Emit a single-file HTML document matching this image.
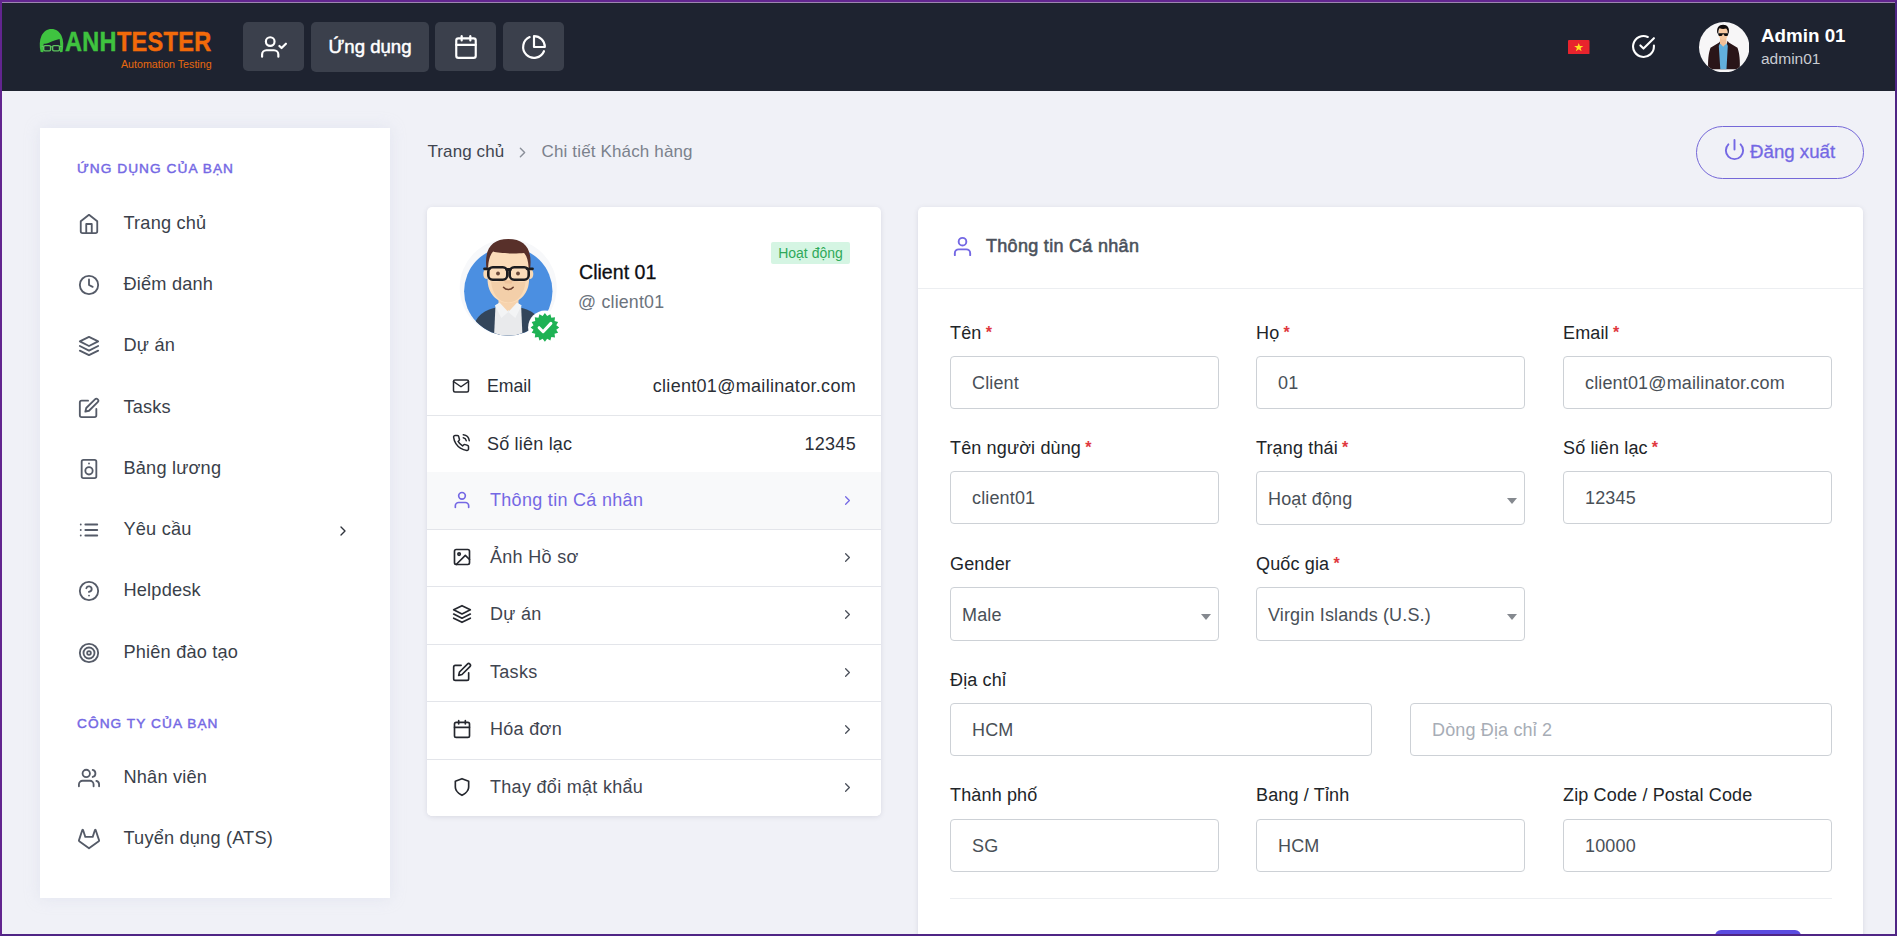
<!DOCTYPE html>
<html lang="vi">
<head>
<meta charset="utf-8">
<title>Chi tiết Khách hàng</title>
<style>
*{box-sizing:border-box;margin:0;padding:0}
html,body{width:1897px;height:936px;overflow:hidden}
body{font-family:"Liberation Sans",sans-serif;background:#f0f1f7;color:#212529;position:relative}
.abs{position:absolute}
svg{display:block}
.ic{fill:none;stroke:currentColor;stroke-width:2;stroke-linecap:round;stroke-linejoin:round}
/* frame */
#frame{position:absolute;left:0;top:0;width:1897px;height:936px;border:2px solid #62258f;border-right-color:#4f2585;border-bottom-color:#4f2585;z-index:50;pointer-events:none}
#topline{position:absolute;left:2px;top:2px;width:1893px;height:1px;background:#9d86b0;z-index:51}
/* navbar */
#nav{position:absolute;left:2px;top:3px;width:1893px;height:88px;background:#1e2330}
.nbtn{position:absolute;top:19px;height:49px;background:#3b404c;border-radius:5px;color:#fff}
.nbtn svg{position:absolute;left:50%;top:50%;transform:translate(-50%,-50%)}
/* sidebar */
#side{position:absolute;left:40px;top:128px;width:350px;height:770px;background:#fff;box-shadow:0 0 14px rgba(200,205,225,.35)}
.cap{position:absolute;left:37px;font-size:13.7px;line-height:16px;letter-spacing:1.05px;color:#7468e4;-webkit-text-stroke:.45px #7468e4;white-space:nowrap}
.mi{position:absolute;left:38px;height:24px;color:#3a3f4a;font-size:18.200px;letter-spacing:.18px;white-space:nowrap;line-height:24px}
.mi svg{position:absolute;left:0;top:2px;color:#555b68}
.mi span{position:absolute;left:45.500px;top:0}
/* cards */
.card{position:absolute;background:#fff;border-radius:5px;box-shadow:0 1px 5px rgba(60,65,90,.13)}
.li{position:absolute;left:0;width:454px;height:58px;background:#fff;border-top:1px solid #e3e5ea;color:#3f4550;font-size:18px;letter-spacing:.3px}
.li svg.i{position:absolute;left:25px;top:17px;color:#24272e}
.li span{position:absolute;left:63px;top:17px;white-space:nowrap}
.li svg.ch{position:absolute;left:413px;top:20px;color:#4a4f5a}
.lb{position:absolute;font-size:18px;letter-spacing:.15px;line-height:22px;color:#212529;white-space:nowrap}
.lb i{font-style:normal;color:#e0383e;margin-left:-1px;font-size:16px;font-weight:bold;position:relative;top:-1px}
.in{position:absolute;height:53px;border:1px solid #cdd1d6;border-radius:4px;background:#fff;font-size:18px;letter-spacing:.15px;color:#495057;line-height:53px;padding-left:21px;white-space:nowrap}
.in.sel{padding-left:11px;height:54px;line-height:55px}
.in.sel:after{content:"";position:absolute;right:7px;top:26px;border:5px solid transparent;border-top:6px solid #85898f;border-bottom:none}
.in.ph{color:#a7adb6}
</style>
</head>
<body>
<div id="nav">
 <!-- logo -->
 <svg class="abs" style="left:32px;top:19px" width="40" height="40" viewBox="0 0 40 40">
  <path d="M6.600 30C5.200 24 5.500 18 7.500 13.800 9.600 9.500 13 7 17.500 7s8 2.500 10 6.800c2 4.200 2.300 10.200 1 16.200l-2.600.3c.5-4.300.4-9.300-.3-13.300-4 .8-6.500 2-9.500 3.200-2.500 1-4.600 1.500-6.400 1.600-.5 2.800-.5 5.800-.2 8.500z" fill="#3fc340"/>
  <rect x="9.700" y="23.600" width="6.900" height="5.300" rx="1.300" fill="none" stroke="#5cc45d" stroke-width="1.400"/>
  <rect x="18.600" y="23.600" width="6.900" height="5.300" rx="1.300" fill="none" stroke="#5cc45d" stroke-width="1.400"/>
  <path d="M16.600 24.800h2M7.500 24.500h2.200M25.500 24.500h2.200" stroke="#62c463" stroke-width="1.100"/>
 </svg>
 <div class="abs" id="lg1" style="left:63px;top:23.400px;font-size:27.700px;line-height:32px;font-weight:bold;white-space:nowrap;transform-origin:0 0;transform:scaleX(.848);letter-spacing:.4px;-webkit-text-stroke-width:.5px"><span style="color:#3fc33f">ANH</span><span style="color:#f26a0a">TESTER</span></div>
 <div class="abs" id="lg2" style="left:119px;top:54px;font-size:11.300px;line-height:14px;color:#e8690e;white-space:nowrap;transform-origin:0 0;transform:scaleX(.945)">Automation Testing</div>
 <!-- buttons -->
 <div class="nbtn" style="left:241px;width:61px"><svg class="ic" width="26" height="26" viewBox="0 0 24 24"><path d="M16 21v-2a4 4 0 0 0-4-4H5a4 4 0 0 0-4 4v2"/><circle cx="8.500" cy="7" r="4"/><polyline points="17 11 19 13 23 9"/></svg></div>
 <div class="nbtn" style="left:309px;width:118px;height:50px;font-size:18.600px;line-height:49px;text-align:center;-webkit-text-stroke:.5px #fff">Ứng dụng</div>
 <div class="nbtn" style="left:433px;width:61px"><svg class="ic" width="26" height="26" viewBox="0 0 24 24"><rect x="3" y="4" width="18" height="18" rx="2" ry="2"/><line x1="16" y1="2" x2="16" y2="6"/><line x1="8" y1="2" x2="8" y2="6"/><line x1="3" y1="10" x2="21" y2="10"/></svg></div>
 <div class="nbtn" style="left:501px;width:61px"><svg class="ic" width="26" height="26" viewBox="0 0 24 24"><path d="M21.210 15.890A10 10 0 1 1 8 2.830"/><path d="M22 12A10 10 0 0 0 12 2v10z"/></svg></div>
 <!-- flag -->
 <svg class="abs" style="left:1566.400px;top:36.800px" width="21.500" height="14.400" viewBox="0 0 20 14" preserveAspectRatio="none"><rect width="20" height="14" rx="1" fill="#e8232d"/><polygon points="10,2.800 11.060,5.900 14.300,5.900 11.700,7.850 12.650,11 10,9.100 7.350,11 8.300,7.850 5.700,5.900 8.940,5.900" fill="#ffde21"/></svg>
 <!-- check -->
 <svg class="ic abs" style="left:1629px;top:31px;color:#fff" width="25" height="25" viewBox="0 0 24 24"><path d="M22 11.080V12a10 10 0 1 1-5.930-9.140"/><polyline points="22 4 12 14.010 9 11.010"/></svg>
 <!-- avatar -->
 <svg class="abs" style="left:1697px;top:18.700px" width="50.400" height="50.400" viewBox="0 0 50.400 50.400">
  <defs><clipPath id="avc"><circle cx="25.200" cy="25.200" r="25.200"/></clipPath></defs>
  <circle cx="25.200" cy="25.200" r="25.200" fill="#f7f6f7"/>
  <g clip-path="url(#avc)">
   <path d="M9.300 47.200c-.6-8 .2-16 2.200-21.500l8.700-5.200 1.200-1.800 1.300 4.500h4.600l1.300-4.500 1.200 1.800 8.700 5.200c2 5.500 2.800 13.500 2.200 21.500z" fill="#2a1518"/>
   <path d="M20.800 21.500l3.500 2 3.500-2 1 2.500-1.300 23.300h-6.200l-1.500-23.300z" fill="#62afdc"/>
   <path d="M21 15h6.400v6.200l-3.200 3.600-3.200-3.600z" fill="#f2c097"/>
   <path d="M19.800 9.500c0-3 2-4.500 4.400-4.500s4.400 1.500 4.400 4.500v3.500c0 2.500-2.200 4.800-4.400 4.800s-4.400-2.300-4.400-4.800z" fill="#f8caa2"/>
   <path d="M18.400 11.500c-1.300-5.500 1.500-8.700 5.700-8.700 4.300 0 6.900 3.200 5.600 8.700l-1-.3c.2-2.500-.6-4-1.600-4.700-2 .6-4.800.5-6.400-.2-.9.900-1.500 2.500-1.300 5z" fill="#120c0c"/>
   <path d="M19.200 11.200h10v1c0 1.200-.9 1.900-2.100 1.900s-2.200-.7-2.400-1.900h-1c-.2 1.200-1.200 1.900-2.400 1.900s-2.100-.7-2.100-1.900z" fill="#0e0e10"/>
  </g>
 </svg>
 <div class="abs" style="left:1759px;top:21.500px;font-size:18.800px;line-height:22px;font-weight:bold;color:#fff;white-space:nowrap">Admin 01</div>
 <div class="abs" style="left:1759px;top:47px;font-size:15.500px;line-height:18px;color:#c9ccd2;white-space:nowrap">admin01</div>
</div>
<div id="side">
 <div class="cap" style="top:33px">ỨNG DỤNG CỦA BẠN</div>
 <div class="mi" style="top:83px"><svg class="ic" width="22" height="22" viewBox="0 0 24 24"><path d="M3 9l9-7 9 7v11a2 2 0 0 1-2 2H5a2 2 0 0 1-2-2z"/><polyline points="9 22 9 12 15 12 15 22"/></svg><span>Trang chủ</span></div>
 <div class="mi" style="top:144px"><svg class="ic" width="22" height="22" viewBox="0 0 24 24"><circle cx="12" cy="12" r="10"/><polyline points="12 6 12 12 16 14"/></svg><span>Điểm danh</span></div>
 <div class="mi" style="top:205px"><svg class="ic" width="22" height="22" viewBox="0 0 24 24"><polygon points="12 2 2 7 12 12 22 7 12 2"/><polyline points="2 17 12 22 22 17"/><polyline points="2 12 12 17 22 12"/></svg><span>Dự án</span></div>
 <div class="mi" style="top:267px"><svg class="ic" width="22" height="22" viewBox="0 0 24 24"><path d="M11 4H4a2 2 0 0 0-2 2v14a2 2 0 0 0 2 2h14a2 2 0 0 0 2-2v-7"/><path d="M18.500 2.500a2.121 2.121 0 0 1 3 3L12 15l-4 1 1-4 9.500-9.500z"/></svg><span>Tasks</span></div>
 <div class="mi" style="top:328px"><svg class="ic" width="22" height="22" viewBox="0 0 24 24"><rect x="4" y="2" width="16" height="20" rx="2" ry="2"/><circle cx="12" cy="14" r="4"/><line x1="12" y1="6" x2="12.010" y2="6"/></svg><span>Bảng lương</span></div>
 <div class="mi" style="top:389px"><svg class="ic" width="22" height="22" viewBox="0 0 24 24"><line x1="8" y1="6" x2="21" y2="6"/><line x1="8" y1="12" x2="21" y2="12"/><line x1="8" y1="18" x2="21" y2="18"/><line x1="3" y1="6" x2="3.010" y2="6"/><line x1="3" y1="12" x2="3.010" y2="12"/><line x1="3" y1="18" x2="3.010" y2="18"/></svg><span>Yêu cầu</span></div>
 <div class="mi" style="top:450px"><svg class="ic" width="22" height="22" viewBox="0 0 24 24"><circle cx="12" cy="12" r="10"/><path d="M9.090 9a3 3 0 0 1 5.830 1c0 2-3 3-3 3"/><line x1="12" y1="17" x2="12.010" y2="17"/></svg><span>Helpdesk</span></div>
 <div class="mi" style="top:512px"><svg class="ic" width="22" height="22" viewBox="0 0 24 24"><circle cx="12" cy="12" r="10"/><circle cx="12" cy="12" r="6"/><circle cx="12" cy="12" r="2"/></svg><span>Phiên đào tạo</span></div>
 <div class="mi" style="top:637px"><svg class="ic" width="22" height="22" viewBox="0 0 24 24"><path d="M17 21v-2a4 4 0 0 0-4-4H5a4 4 0 0 0-4 4v2"/><circle cx="9" cy="7" r="4"/><path d="M23 21v-2a4 4 0 0 0-3-3.870"/><path d="M16 3.130a4 4 0 0 1 0 7.750"/></svg><span>Nhân viên</span></div>
 <div class="mi" style="top:698px"><svg class="ic" width="22" height="22" viewBox="0 0 24 24"><path d="M22.650 14.390L12 22.130 1.350 14.390a.84.84 0 0 1-.3-.94l1.220-3.780 2.440-7.510A.42.42 0 0 1 4.820 2a.43.43 0 0 1 .58 0 .42.42 0 0 1 .11.180l2.440 7.490h8.100l2.440-7.510A.42.42 0 0 1 18.600 2a.43.43 0 0 1 .58 0 .42.42 0 0 1 .11.180l2.440 7.510L23 13.450a.84.84 0 0 1-.35.940z"/></svg><span>Tuyển dụng (ATS)</span></div>
 <svg class="ic abs" style="left:295px;top:394.500px;color:#2f333c" width="16" height="16" viewBox="0 0 24 24"><polyline points="9 18 15 12 9 6"/></svg>
 <div class="cap" style="top:588px">CÔNG TY CỦA BẠN</div>
</div>
<div id="main">
 <div class="abs" style="left:427.500px;top:142px;font-size:17px;letter-spacing:.1px;line-height:20px;color:#3f4550;white-space:nowrap">Trang chủ</div>
 <svg class="ic abs" style="left:513.500px;top:144px;color:#8a8f99" width="17" height="17" viewBox="0 0 24 24"><polyline points="9 18 15 12 9 6"/></svg>
 <div class="abs" style="left:541.500px;top:142px;font-size:17px;letter-spacing:.15px;line-height:20px;color:#7b818c;white-space:nowrap">Chi tiết Khách hàng</div>
 <div class="abs" style="left:1696px;top:126px;width:168px;height:53px;border:1px solid #7568d8;border-radius:27px;color:#7468e4"></div>
 <svg class="ic abs" style="left:1723.300px;top:137.700px;color:#7468e4" width="23" height="23" viewBox="0 0 24 24"><path d="M18.360 6.640a9 9 0 1 1-12.730 0"/><line x1="12" y1="2" x2="12" y2="12"/></svg>
 <div class="abs" style="left:1750px;top:141px;font-size:18.700px;line-height:22px;color:#7468e4;white-space:nowrap;-webkit-text-stroke:.3px #7468e4">Đăng xuất</div>
 <div class="card" id="pc" style="left:427px;top:207px;width:454px;height:609px;overflow:hidden">
  <svg class="abs" style="left:23px;top:18px" width="120" height="120" viewBox="0 0 120 120">
   <defs><clipPath id="cc"><rect x="0" y="0" width="120" height="66"/><circle cx="58.300" cy="66.300" r="44.200"/></clipPath></defs>
   <circle cx="58.200" cy="62.500" r="48.500" fill="#f7f8fa"/>
   <circle cx="58.300" cy="66.300" r="44.200" fill="#4b8fe1"/>
   <g clip-path="url(#cc)">
    <path d="M22 112c1-18 8-25 22-29l14-3 14 3c14 4 21 11 22 29z" fill="#33455a"/>
    <path d="M45.500 80l12.800-3 12.800 3 1.400 32H44z" fill="#e9eaec"/>
    <path d="M48.500 68h20v11l-6.500 9-3.500-3-3.500 3-6.500-9z" fill="#f6d3ae"/>
    <path d="M45 80.500l4.500-3 8.800 9.500-7 6z M71.600 80.500l-4.500-3-8.800 9.500 7 6z" fill="#f3f4f5"/>
    <ellipse cx="36.300" cy="49" rx="3" ry="5" fill="#f9d9b5"/><ellipse cx="80.300" cy="49" rx="3" ry="5" fill="#f9d9b5"/>
    <path d="M37.500 30c0-6 6-9 20.800-9s20.800 3 20.800 9v24c0 14-9 24-20.800 24S37.500 68 37.500 54z" fill="#fbdcb9"/>
    <path d="M41 56c3 2 8 1 10.500-1h13.600c2.500 2 7.500 3 10.500 1-1 13-8 21.500-17.300 21.500S42 69 41 56z" fill="#f3cfa9"/>
    <path d="M54 55.500h8.600l-1 3h-6.600z" fill="#eec39c"/>
    <path d="M36.500 44c-2.500-20 5-30 21.800-30s24.300 10 21.800 30l-1.500-2c-.5-7-2-11-4.500-14-9 1-25 .5-31-1.500-3 3.500-4.500 8-5 15.500z" fill="#58302a"/>
    <rect x="38.300" y="42.300" width="19" height="12.400" rx="4.500" fill="#fbdcb9" stroke="#1d1d20" stroke-width="2.600"/>
    <rect x="59.700" y="42.300" width="19" height="12.400" rx="4.500" fill="#fbdcb9" stroke="#1d1d20" stroke-width="2.600"/>
    <path d="M34.500 43.800h5M77 43.800h5.500M56.500 44.500h4" stroke="#1d1d20" stroke-width="2.800" stroke-linecap="round"/>
    <circle cx="48" cy="48.500" r="1.900" fill="#6b4a3a"/><circle cx="68" cy="48.500" r="1.900" fill="#6b4a3a"/>
    <path d="M53.500 62.300c2.500 3 7.200 3 9.700 0" fill="none" stroke="#6a3f2e" stroke-width="1.500" stroke-linecap="round"/>
   </g>
   <circle cx="94.900" cy="102.400" r="16.800" fill="#fff"/>
   <g transform="translate(94.900 102.400)"><polygon fill="#1eb254" points="0.00,-14.30 2.26,-11.38 5.47,-13.21 6.44,-9.65 10.11,-10.11 9.65,-6.44 13.21,-5.47 11.38,-2.26 14.30,-0.00 11.38,2.26 13.21,5.47 9.65,6.44 10.11,10.11 6.44,9.65 5.47,13.21 2.26,11.38 0.00,14.30 -2.26,11.38 -5.47,13.21 -6.44,9.65 -10.11,10.11 -9.65,6.44 -13.21,5.47 -11.38,2.26 -14.30,0.00 -11.38,-2.26 -13.21,-5.47 -9.65,-6.44 -10.11,-10.11 -6.44,-9.65 -5.47,-13.21 -2.26,-11.38"/><path d="M-5.800 0.300l4 4 7.800-8.300" fill="none" stroke="#fff" stroke-width="3" stroke-linecap="round" stroke-linejoin="round"/></g>
  </svg>
  <div class="abs" style="left:152px;top:53px;font-size:19.600px;line-height:24px;color:#0d0e12;white-space:nowrap;-webkit-text-stroke:.3px #0d0e12">Client 01</div>
  <div class="abs" style="left:151px;top:84px;font-size:17.800px;letter-spacing:.2px;line-height:22px;color:#6c737d;white-space:nowrap">@ client01</div>
  <div class="abs" style="left:344px;top:35px;width:79px;height:22px;background:#d5f5e3;border-radius:2px;color:#2fa95a;font-size:14px;line-height:22px;text-align:center;white-space:nowrap">Hoạt động</div>
  <svg class="ic abs" style="left:25px;top:170px;color:#24272e" width="18" height="18" viewBox="0 0 24 24"><path d="M4 4h16c1.100 0 2 .9 2 2v12c0 1.100-.9 2-2 2H4c-1.100 0-2-.9-2-2V6c0-1.100.9-2 2-2z"/><polyline points="22,6 12,13 2,6"/></svg>
  <div class="abs" style="left:60px;top:168px;font-size:17.700px;line-height:22px;color:#2b2f37;white-space:nowrap">Email</div>
  <div class="abs" style="right:25px;top:168px;font-size:18px;letter-spacing:.3px;line-height:22px;color:#2b2f37;white-space:nowrap">client01@mailinator.com</div>
  <div class="abs" style="left:0;top:208px;width:454px;height:1px;background:#e4e6ea"></div>
  <svg class="ic abs" style="left:25px;top:227px;color:#24272e" width="18" height="18" viewBox="0 0 24 24"><path d="M15.050 5A5 5 0 0 1 19 8.950M15.050 1A9 9 0 0 1 23 8.940m-1 7.980v3a2 2 0 0 1-2.180 2 19.790 19.790 0 0 1-8.630-3.070 19.500 19.500 0 0 1-6-6 19.790 19.790 0 0 1-3.070-8.670A2 2 0 0 1 4.110 2h3a2 2 0 0 1 2 1.720 12.840 12.840 0 0 0 .7 2.810 2 2 0 0 1-.45 2.110L8.090 9.910a16 16 0 0 0 6 6l1.270-1.270a2 2 0 0 1 2.110-.45 12.840 12.840 0 0 0 2.810.7A2 2 0 0 1 22 16.920z"/></svg>
  <div class="abs" style="left:60px;top:226px;font-size:18px;letter-spacing:.2px;line-height:22px;color:#2b2f37;white-space:nowrap">Số liên lạc</div>
  <div class="abs" style="right:25px;top:226px;font-size:18px;letter-spacing:.3px;line-height:22px;color:#2b2f37;white-space:nowrap">12345</div>
  <div class="li" style="top:265px;background:#f8f9fa;color:#7468e4;border-top-color:transparent;"><svg class="ic i" style="color:#7468e4" width="20" height="20" viewBox="0 0 24 24"><path d="M20 21v-2a4 4 0 0 0-4-4H8a4 4 0 0 0-4 4v2"/><circle cx="12" cy="7" r="4"/></svg><span>Thông tin Cá nhân</span><svg class="ic ch" style="color:#7468e4" width="15" height="15" viewBox="0 0 24 24"><polyline points="9 18 15 12 9 6"/></svg></div>
  <div class="li" style="top:322px;"><svg class="ic i" style="" width="20" height="20" viewBox="0 0 24 24"><rect x="3" y="3" width="18" height="18" rx="2" ry="2"/><circle cx="8.500" cy="8.500" r="1.500"/><polyline points="21 15 16 10 5 21"/></svg><span>Ảnh Hồ sơ</span><svg class="ic ch" style="" width="15" height="15" viewBox="0 0 24 24"><polyline points="9 18 15 12 9 6"/></svg></div>
  <div class="li" style="top:379px;"><svg class="ic i" style="" width="20" height="20" viewBox="0 0 24 24"><polygon points="12 2 2 7 12 12 22 7 12 2"/><polyline points="2 17 12 22 22 17"/><polyline points="2 12 12 17 22 12"/></svg><span>Dự án</span><svg class="ic ch" style="" width="15" height="15" viewBox="0 0 24 24"><polyline points="9 18 15 12 9 6"/></svg></div>
  <div class="li" style="top:437px;"><svg class="ic i" style="" width="20" height="20" viewBox="0 0 24 24"><path d="M11 4H4a2 2 0 0 0-2 2v14a2 2 0 0 0 2 2h14a2 2 0 0 0 2-2v-7"/><path d="M18.500 2.500a2.121 2.121 0 0 1 3 3L12 15l-4 1 1-4 9.500-9.500z"/></svg><span>Tasks</span><svg class="ic ch" style="" width="15" height="15" viewBox="0 0 24 24"><polyline points="9 18 15 12 9 6"/></svg></div>
  <div class="li" style="top:494px;"><svg class="ic i" style="" width="20" height="20" viewBox="0 0 24 24"><rect x="3" y="4" width="18" height="18" rx="2" ry="2"/><line x1="16" y1="2" x2="16" y2="6"/><line x1="8" y1="2" x2="8" y2="6"/><line x1="3" y1="10" x2="21" y2="10"/></svg><span>Hóa đơn</span><svg class="ic ch" style="" width="15" height="15" viewBox="0 0 24 24"><polyline points="9 18 15 12 9 6"/></svg></div>
  <div class="li" style="top:552px;"><svg class="ic i" style="" width="20" height="20" viewBox="0 0 24 24"><path d="M12 22s8-4 8-10V5l-8-3-8 3v7c0 6 8 10 8 10z"/></svg><span>Thay đổi mật khẩu</span><svg class="ic ch" style="" width="15" height="15" viewBox="0 0 24 24"><polyline points="9 18 15 12 9 6"/></svg></div>
 </div>
 <div class="card" id="fc" style="left:918px;top:207px;width:945px;height:760px">
  <svg class="ic abs" style="left:33px;top:28px;color:#7468e4" width="23" height="23" viewBox="0 0 24 24"><path d="M20 21v-2a4 4 0 0 0-4-4H8a4 4 0 0 0-4 4v2"/><circle cx="12" cy="7" r="4"/></svg>
  <div class="abs" id="ttl" style="left:68px;top:28px;font-size:18px;letter-spacing:.3px;line-height:22px;color:#4b515b;white-space:nowrap;-webkit-text-stroke:.55px #4b515b">Thông tin Cá nhân</div>
  <div class="abs" style="left:0;top:81px;width:945px;height:1px;background:#eceef1"></div>
  <div class="lb" style="left:32px;top:115px">Tên <i>*</i></div>
  <div class="in " style="left:32px;top:149px;width:269px">Client</div>
  <div class="lb" style="left:338px;top:115px">Họ <i>*</i></div>
  <div class="in " style="left:338px;top:149px;width:269px">01</div>
  <div class="lb" style="left:645px;top:115px">Email <i>*</i></div>
  <div class="in " style="left:645px;top:149px;width:269px">client01@mailinator.com</div>
  <div class="lb" style="left:32px;top:230px">Tên người dùng <i>*</i></div>
  <div class="in " style="left:32px;top:264px;width:269px">client01</div>
  <div class="lb" style="left:338px;top:230px">Trạng thái <i>*</i></div>
  <div class="in sel" style="left:338px;top:264px;width:269px">Hoạt động</div>
  <div class="lb" style="left:645px;top:230px">Số liên lạc <i>*</i></div>
  <div class="in " style="left:645px;top:264px;width:269px">12345</div>
  <div class="lb" style="left:32px;top:346px">Gender</div>
  <div class="in sel" style="left:32px;top:380px;width:269px">Male</div>
  <div class="lb" style="left:338px;top:346px">Quốc gia <i>*</i></div>
  <div class="in sel" style="left:338px;top:380px;width:269px">Virgin Islands (U.S.)</div>
  <div class="lb" style="left:32px;top:462px">Địa chỉ</div>
  <div class="in " style="left:32px;top:496px;width:422px">HCM</div>
  <div class="in ph" style="left:492px;top:496px;width:422px">Dòng Địa chỉ 2</div>
  <div class="lb" style="left:32px;top:577px">Thành phố</div>
  <div class="in " style="left:32px;top:612px;width:269px">SG</div>
  <div class="lb" style="left:338px;top:577px">Bang / Tỉnh</div>
  <div class="in " style="left:338px;top:612px;width:269px">HCM</div>
  <div class="lb" style="left:645px;top:577px">Zip Code / Postal Code</div>
  <div class="in " style="left:645px;top:612px;width:269px">10000</div>
  <div class="abs" style="left:32px;top:691px;width:882px;height:1px;background:#eceef1"></div>
  <div class="abs" style="left:797px;top:723px;width:86px;height:40px;background:#5b4be0;border-radius:6px"></div>
 </div>
</div>
<div id="topline"></div>
<div id="frame"></div>
</body>
</html>
